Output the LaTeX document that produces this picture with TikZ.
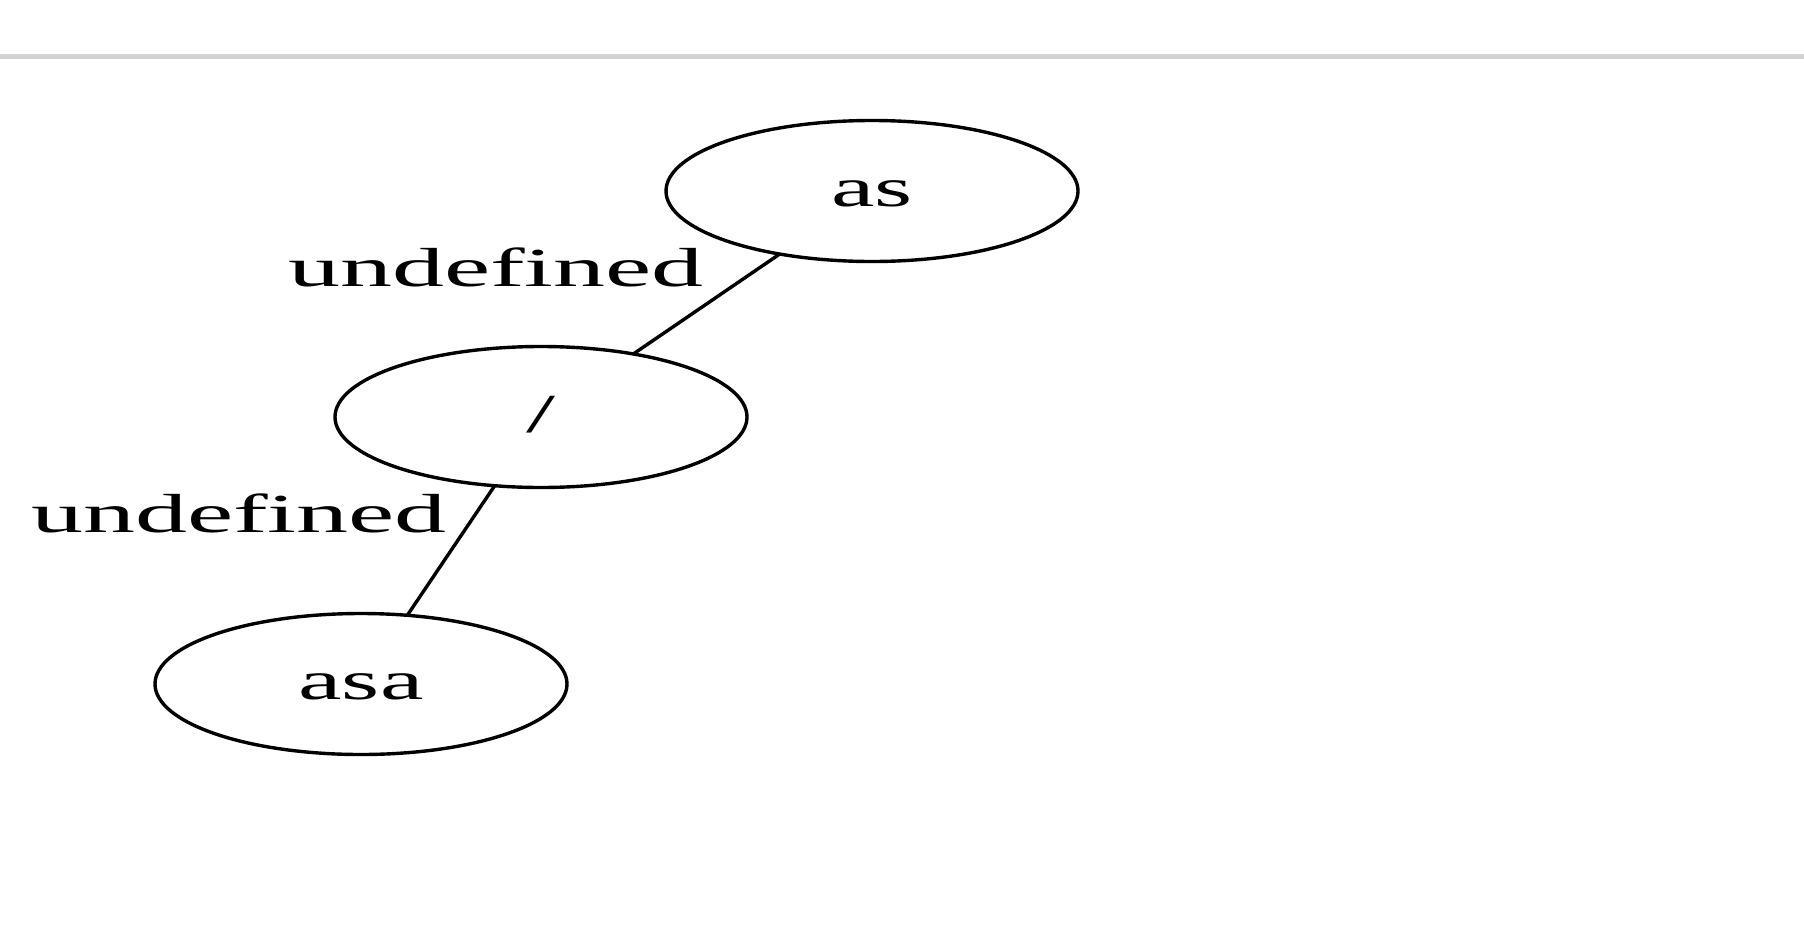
\documentclass[tikz,border=0pt]{standalone}
\usepackage{fontspec}
\setmainfont{Liberation Serif}
\usetikzlibrary{shapes.geometric}
\definecolor{rulegray}{HTML}{D3D3D3}
\tikzset{
  gnode/.style={ellipse, draw=black, line width=3.4pt, minimum width=412pt, minimum height=141pt,
    inner sep=0pt, outer sep=0pt, text height=31pt, text depth=0pt, font=\fontsize{55}{66}\selectfont},
  elabel/.style={anchor=base, inner sep=0pt, font=\fontsize{55}{66}\selectfont},
  gedge/.style={line width=3.4pt, draw=black},
}
\newcommand{\wx}[2]{\scalebox{#1}[1]{#2}}
\begin{document}
\begin{tikzpicture}[x=1pt,y=-1pt]
\useasboundingbox (0,0) rectangle (1804,929);
\fill[rulegray] (0,54) rectangle (1804,59);
\node[gnode] (as) at (872,191) {\wx{1.78}{as}};
\node[gnode] (slash) at (541,417) {\wx{1.9}{/}};
\node[gnode] (asa) at (361,684) {\wx{1.78}{asa}};
\draw[gedge] (as) -- (slash);
\draw[gedge] (slash) -- (asa);
\node[elabel] (l1) at (496,286) {\wx{1.89}{undefined}};
\node[elabel] (l2) at (239,532) {\wx{1.89}{undefined}};
\end{tikzpicture}
\end{document}
